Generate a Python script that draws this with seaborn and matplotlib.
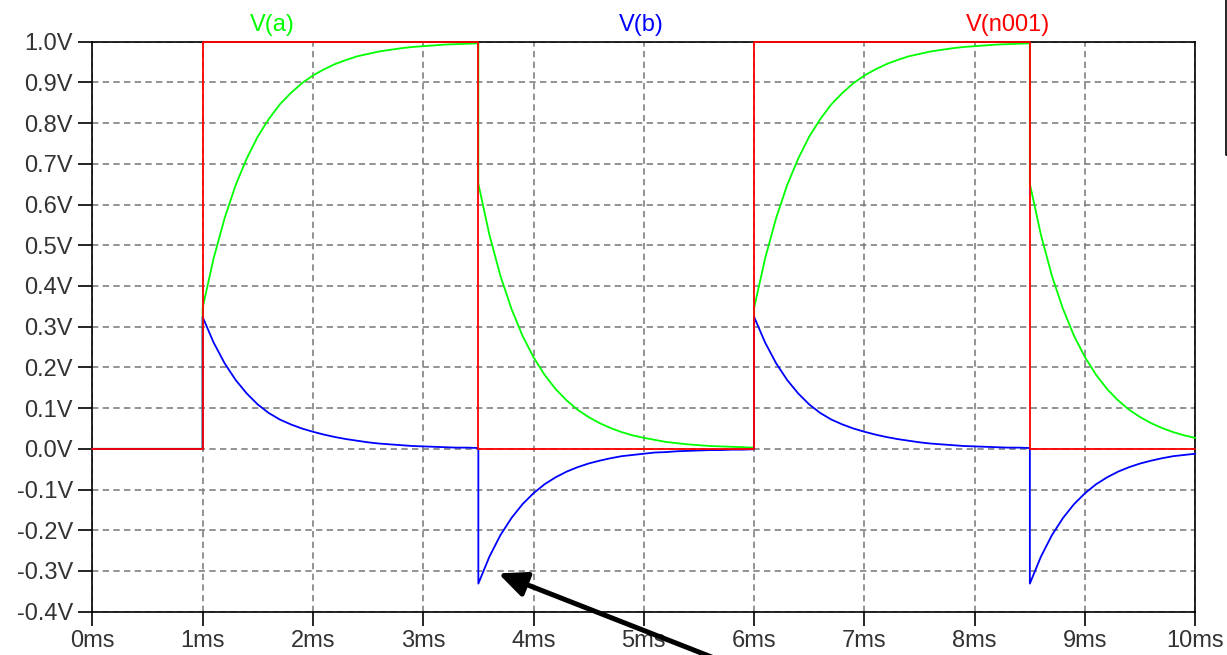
import numpy as np
import pandas as pd
import matplotlib
matplotlib.use("Agg")
import matplotlib.pyplot as plt
import seaborn as sns
from matplotlib.lines import Line2D

# ---------------- data ----------------
# time offsets (ms) inside each transient segment
seg_dt = [0.0, 0.1, 0.2, 0.3, 0.4, 0.5, 0.6, 0.7, 0.8, 0.9, 1.0, 1.1, 1.2,
          1.3, 1.4, 1.5, 1.6, 1.7, 1.8, 1.9, 2.0, 2.1, 2.2, 2.3, 2.4, 2.5]

# V(n001): pulse source
red_t = [0.0, 1.0, 1.0, 3.5, 3.5, 6.0, 6.0, 8.5, 8.5, 10.0]
red_v = [0.0, 0.0, 1.0, 1.0, 0.0, 0.0, 1.0, 1.0, 0.0, 0.0]

rise_times = [1.0, 6.0]
fall_times = [3.5, 8.5]

# V(a) after a rising / falling edge
green_rise = [0.346, 0.468, 0.567, 0.648, 0.713, 0.767, 0.810, 0.846, 0.874,
              0.898, 0.917, 0.932, 0.945, 0.955, 0.964, 0.970, 0.976, 0.980,
              0.984, 0.987, 0.989, 0.991, 0.993, 0.994, 0.995, 0.996]
green_fall = [0.651, 0.526, 0.425, 0.344, 0.278, 0.225, 0.182, 0.147, 0.119,
              0.096, 0.078, 0.063, 0.051, 0.041, 0.033, 0.027, 0.022, 0.017,
              0.014, 0.011, 0.009, 0.007, 0.006, 0.005, 0.004, 0.003]

# V(b) after a rising / falling edge
blue_rise = [0.324, 0.261, 0.210, 0.169, 0.136, 0.109, 0.088, 0.072, 0.060,
             0.050, 0.042, 0.035, 0.029, 0.024, 0.020, 0.016, 0.013, 0.011,
             0.009, 0.007, 0.006, 0.005, 0.004, 0.003, 0.003, 0.002]
blue_fall = [-0.331, -0.265, -0.212, -0.170, -0.136, -0.109, -0.087, -0.070,
             -0.056, -0.045, -0.036, -0.029, -0.023, -0.018, -0.015, -0.012,
             -0.009, -0.008, -0.006, -0.005, -0.004, -0.003, -0.003, -0.002,
             -0.002, -0.001]

x_ticks = [0, 1, 2, 3, 4, 5, 6, 7, 8, 9, 10]
x_labels = ["0ms", "1ms", "2ms", "3ms", "4ms", "5ms", "6ms", "7ms", "8ms",
            "9ms", "10ms"]
y_ticks = [-0.4, -0.3, -0.2, -0.1, 0.0, 0.1, 0.2, 0.3, 0.4, 0.5, 0.6, 0.7,
           0.8, 0.9, 1.0]
y_labels = ["-0.4V", "-0.3V", "-0.2V", "-0.1V", "0.0V", "0.1V", "0.2V",
            "0.3V", "0.4V", "0.5V", "0.6V", "0.7V", "0.8V", "0.9V", "1.0V"]

trace_names = ["V(a)", "V(b)", "V(n001)"]
trace_colors = ["#00ff00", "#0000ff", "#ff0000"]
T_END = 10.0


def build(rise, fall):
    t = [0.0, rise_times[0]]
    v = [0.0, 0.0]
    for tr, tf in zip(rise_times, fall_times):
        for d, val in zip(seg_dt, rise):
            t.append(tr + d)
            v.append(val)
        for d, val in zip(seg_dt, fall):
            if tf + d <= T_END + 1e-9:
                t.append(tf + d)
                v.append(val)
    return t, v


green_t, green_v = build(green_rise, green_fall)
blue_t, blue_v = build(blue_rise, blue_fall)

df_a = pd.DataFrame({"t": green_t, "v": green_v})
df_b = pd.DataFrame({"t": blue_t, "v": blue_v})
df_n = pd.DataFrame({"t": red_t, "v": red_v})

# ---------------- figure ----------------
sns.set_style("white")
plt.rcParams["font.family"] = ["Liberation Sans", "DejaVu Sans"]

W, H = 1227, 655
fig = plt.figure(figsize=(W / 100, H / 100), dpi=100)
L, R, T, B = 92.3, 1195.3, 41.7, 611.7
ax = fig.add_axes([L / W, (H - B) / H, (R - L) / W, (B - T) / H])

for df, col in zip([df_a, df_b, df_n], trace_colors):
    sns.lineplot(data=df, x="t", y="v", estimator=None, sort=False,
                 color=col, linewidth=1.3, ax=ax, legend=False)
for ln in ax.lines:
    ln.set_zorder(3)
    ln.set_clip_on(False)

ax.set_xlim(0, 10)
ax.set_ylim(-0.4, 1.0)
ax.set_xticks(x_ticks)
ax.set_xticklabels(x_labels)
ax.set_yticks(y_ticks)
ax.set_yticklabels(y_labels)
ax.set_xlabel("")
ax.set_ylabel("")

ax.set_axisbelow(True)
ax.grid(True, color="#808080", linestyle=(0, (3.8, 2.6)), linewidth=1.2)
ax.tick_params(axis="both", direction="out", length=10, width=1.2,
               color="black", labelsize=17, labelcolor="#333333",
               left=True, bottom=True, top=False, right=False)
ax.tick_params(axis="y", pad=4)
ax.tick_params(axis="x", pad=3)
for sp in ax.spines.values():
    sp.set_visible(True)
    sp.set_color("black")
    sp.set_linewidth(1.2)

# trace names above the plot
title_x = [272, 641, 1008]
for name, col, xp in zip(trace_names, trace_colors, title_x):
    fig.text(xp / W, (H - 31.5) / H, name, color=col, fontsize=17,
             ha="center", va="baseline")

# pointer arrow to the negative spike
ax.annotate("", xy=(3.681, -0.306), xycoords="data",
            xytext=(737, -12), textcoords="figure pixels",
            arrowprops=dict(arrowstyle="-|>,head_length=0.85,head_width=0.38",
                            lw=3.6, color="black", mutation_scale=20,
                            shrinkA=0, shrinkB=0),
            annotation_clip=False)

# small frame corner at the right border
fig.add_artist(Line2D([1226 / W, 1226 / W, 1.0], [1.0, 1 - 155 / H, 1 - 155 / H],
                      transform=fig.transFigure, color="black", linewidth=1.2))

fig.savefig("out.png", dpi=100)
